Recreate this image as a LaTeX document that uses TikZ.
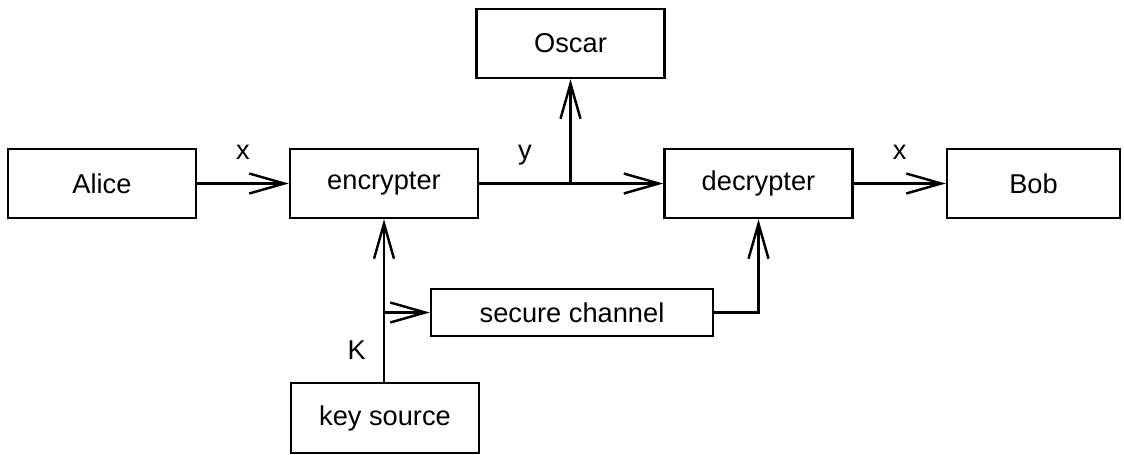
\documentclass[tikz,border=0pt]{standalone}
\usepackage{fontspec}
\setmainfont{Liberation Sans}
\usetikzlibrary{arrows.meta}
\usetikzlibrary{positioning}

\begin{document}
\begin{tikzpicture}

\tikzset{box/.style = {draw, line width=1.4pt, minimum width=3.76cm, minimum height=1.38cm, inner sep=0pt, font=\fontsize{15.5}{18}\selectfont}}
\tikzset{edge/.style = {line width=1.4pt, -{Straight Barb[length=7mm,width=4mm]}}}
\tikzset{wire/.style = {line width=1.4pt}}
\tikzset{lbl/.style = {inner sep=0pt, text depth=0pt, font=\fontsize{15.5}{18}\selectfont}}

\useasboundingbox (0,0) rectangle (22.48,-9.08);

%boxes
\node[box] (alice) at (2.04,-3.67) {Alice};
\node[box] (enc) at (7.68,-3.67) {encrypter};
\node[box] (dec) at (15.17,-3.67) {decrypter};
\node[box, minimum width=3.46cm] (bob) at (20.67,-3.67) {Bob};
\node[box] (oscar) at (11.41,-0.87) {Oscar};
\node[box, minimum width=5.64cm, minimum height=0.94cm] (secure) at (11.44,-6.25) {secure channel};
\node[box, minimum height=1.40cm] (keysrc) at (7.70,-8.36) {key source};

%branch points
\coordinate (ytap) at (enc.east -| oscar.south);
\coordinate (ktap) at (enc.south |- secure.west);

%horizontal edge
\draw[edge] (alice) to node[lbl, above=4.5mm] {x} (enc);
\draw[wire] (enc.east) to node[lbl, above=4.5mm] {y} (ytap);
\draw[edge] (ytap) to (dec);
\draw[edge] (dec) to node[lbl, above=4.5mm] {x} (bob);
\draw[edge] (ktap) to (secure);

%vertical edge
\draw[edge] (ytap) to (oscar);
\draw[wire] (ktap |- keysrc.north) to node[lbl, left=3.4mm, pos=0.45] {K} (ktap);
\draw[edge] (ktap) to (enc);
\draw[edge] (secure.east) -| (dec.south);

\end{tikzpicture}
\end{document}
